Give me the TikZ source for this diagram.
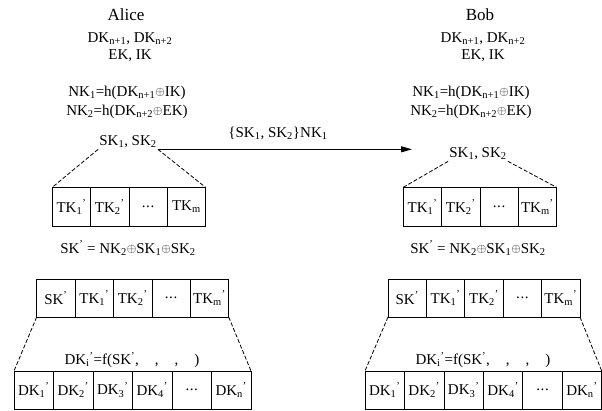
\documentclass[tikz,border=0pt]{standalone}
\usepackage{fontspec}
\setmainfont{Liberation Serif}
\usetikzlibrary{arrows.meta, positioning}
\newcommand{\subs}[1]{\textsubscript{#1}}
\newcommand{\prm}{\textsuperscript{'}}
\newcommand{\xor}{\raisebox{0.9pt}{\scalebox{0.85}{$\oplus$}}}
\newcommand{\ellip}{.\kern0.6pt.\kern0.6pt.}

\begin{document}
\begin{tikzpicture}[x=1pt, y=-1pt, font=\fontsize{15}{18}\selectfont, >=Stealth]

\useasboundingbox (0,0) rectangle (602,411);

\tikzset{
  keybox/.style={draw, line width=0.8pt, inner sep=0pt, outer sep=0pt},
  txt/.style={inner sep=1pt},
  split/.style={dash pattern=on 4pt off 2pt, line width=0.8pt}
}

% Alice
\node[txt, font=\fontsize{17}{20}\selectfont] (alice) at (126,15) {Alice};
\node[txt] (heldA) at (130,39) {DK\subs{n+1}, DK\subs{n+2}};
\node[txt] (pubA)  at (130,56) {EK, IK};
\node[txt] (nkA1)  at (127,93) {NK\subs{1}=h(DK\subs{n+1}\xor IK)};
\node[txt] (nkA2)  at (127,112) {NK\subs{2}=h(DK\subs{n+2}\xor EK)};
\node[txt] (skA)   at (128,142) {SK\subs{1}, SK\subs{2}};
\node[txt] (sumA)  at (128,248) {SK\prm{} = NK\subs{2}\xor SK\subs{1}\xor SK\subs{2}};
\node[txt] (fA)    at (132,360) {DK\subs{i}\prm=f(SK\prm,\hspace{16pt},\hspace{16pt},\hspace{16pt})};

\foreach \t [count=\i] in {TK\subs{1}\prm, TK\subs{2}\prm, \ellip, TK\subs{m}}
  \node[keybox, minimum width=38.3pt, minimum height=39.4pt] (tkA\i) at ({52.3+38.3*(\i-0.5)},207) {\t};
\foreach \t [count=\i] in {SK\prm, TK\subs{1}\prm, TK\subs{2}\prm, \ellip, TK\subs{m}\prm}
  \node[keybox, minimum width=38.4pt, minimum height=38pt] (rowA\i) at ({36.7+38.4*(\i-0.5)},298) {\t};
\foreach \t [count=\i] in {DK\subs{1}\prm, DK\subs{2}\prm, DK\subs{3}\prm, DK\subs{4}\prm, \ellip, DK\subs{n}\prm}
  \node[keybox, minimum width=39.5pt, minimum height=38pt] (dkA\i) at ({14+39.5*(\i-0.5)},390) {\t};

\draw[split] (skA.south west) -- (tkA1.north west);
\draw[split] (skA.south east) -- (tkA4.north east);
\draw[split] (rowA1.south west) -- (dkA1.north west);
\draw[split] (rowA5.south east) -- (dkA6.north east);

% Bob
\node[txt, font=\fontsize{17}{20}\selectfont] (bob) at (480,15) {Bob};
\node[txt] (heldB) at (483,39) {DK\subs{n+1}, DK\subs{n+2}};
\node[txt] (pubB)  at (483,56) {EK, IK};
\node[txt] (nkB1)  at (471,93) {NK\subs{1}=h(DK\subs{n+1}\xor IK)};
\node[txt] (nkB2)  at (471,112) {NK\subs{2}=h(DK\subs{n+2}\xor EK)};
\node[txt] (skB)   at (478,154) {SK\subs{1}, SK\subs{2}};
\node[txt] (sumB)  at (478,248) {SK\prm{} = NK\subs{2}\xor SK\subs{1}\xor SK\subs{2}};
\node[txt] (fB)    at (483,360) {DK\subs{i}\prm=f(SK\prm,\hspace{16pt},\hspace{16pt},\hspace{16pt})};

\foreach \t [count=\i] in {TK\subs{1}\prm, TK\subs{2}\prm, \ellip, TK\subs{m}\prm}
  \node[keybox, minimum width=38.3pt, minimum height=39.4pt] (tkB\i) at ({403.3+38.3*(\i-0.5)},207) {\t};
\foreach \t [count=\i] in {SK\prm, TK\subs{1}\prm, TK\subs{2}\prm, \ellip, TK\subs{m}\prm}
  \node[keybox, minimum width=38.4pt, minimum height=38pt] (rowB\i) at ({388+38.4*(\i-0.5)},298) {\t};
\foreach \t [count=\i] in {DK\subs{1}\prm, DK\subs{2}\prm, DK\subs{3}\prm, DK\subs{4}\prm, \ellip, DK\subs{n}\prm}
  \node[keybox, minimum width=39.45pt, minimum height=38pt] (dkB\i) at ({365+39.45*(\i-0.5)},390) {\t};

\draw[split] (skB.south west) -- (tkB1.north west);
\draw[split] (skB.south east) -- (tkB4.north east);
\draw[split] (rowB1.south west) -- (dkB1.north west);
\draw[split] (rowB5.south east) -- (dkB6.north east);

% message
\coordinate (recv) at (412,149);
\draw[-{Triangle[length=11pt, width=6pt]}, line width=0.8pt] (skA.south east) -- (skA.south east -| recv);
\node[txt] (msg) at (278,133) {\{SK\subs{1}, SK\subs{2}\}NK\subs{1}};

\end{tikzpicture}
\end{document}
